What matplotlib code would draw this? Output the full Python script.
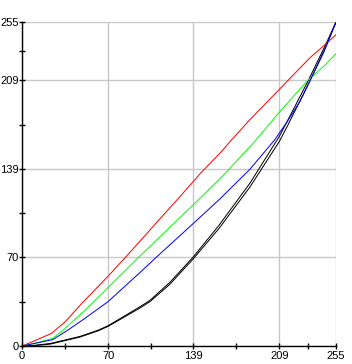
import numpy as np
import matplotlib.pyplot as plt

# curvas (entrada 0-255 -> salida 0-255)
x_rojo = [0, 10, 24, 35, 50, 70, 87, 100, 111, 125, 146, 161, 170, 185, 200, 215, 234, 247, 255]
rojo   = [0, 4, 10, 19, 35, 55, 73, 87, 99, 114, 137, 152, 162, 178, 193, 208, 227, 238, 245]

x_verde = [0, 10, 25, 34, 50, 70, 96, 126, 139, 161, 169, 189, 209, 232, 245, 255]
verde   = [0, 2, 6, 13, 27, 46, 71, 99, 111, 132, 140, 161, 184, 209, 220, 230]

x_azul = [0, 10, 25, 38, 50, 70, 96, 107, 142, 161, 185, 205, 215, 226, 232, 245, 255]
azul   = [0, 2, 5, 13, 21, 35, 58, 68, 99, 116, 139, 162, 176, 193, 205, 231, 255]

x_negro = [0, 10, 23, 47, 62, 70, 96, 104, 120, 139, 160, 185, 209, 216, 232, 247, 255]
negro1  = [0, 0.5, 2, 7.5, 12.5, 16, 31, 36, 50, 70, 95, 128, 165, 178, 208, 238, 255]
negro2  = [0, 0.3, 1.5, 7, 12, 15.5, 30, 35, 48.5, 68.5, 92.5, 125, 161, 174, 205, 236, 255]

ticks = [0, 70, 139, 209, 255]
minor = [35, 104.5, 174, 232]

plt.rcParams['font.family'] = 'Liberation Sans'

fig = plt.figure(figsize=(3.52, 3.64), dpi=100)
ax = fig.add_axes([22/352, 18/364, 314/352, 324/364])

lw = 0.72
ax.plot(x_negro, negro1, color='black', lw=lw)
ax.plot(x_negro, negro2, color='black', lw=lw)
ax.plot(x_rojo, rojo, color='#ff0000', lw=lw)
ax.plot(x_verde, verde, color='#00ff00', lw=lw)
ax.plot(x_azul, azul, color='#0000ff', lw=lw)

ax.set_xlim(0, 255)
ax.set_ylim(0, 255)
ax.set_xticks(ticks)
ax.set_yticks(ticks)
ax.set_xticks(minor, minor=True)
ax.set_yticks(minor, minor=True)
ax.grid(True, color='#c8c8c8', lw=1)
ax.set_axisbelow(True)

for s in ['top', 'right']:
    ax.spines[s].set_visible(False)
for s in ['left', 'bottom']:
    ax.spines[s].set_linewidth(1)
    ax.spines[s].set_zorder(5)

ax.tick_params(which='both', direction='inout', length=5, width=1,
               labelsize=8, pad=1)
ax.tick_params(axis='y', pad=0)

fig.savefig('out.png', dpi=100)
